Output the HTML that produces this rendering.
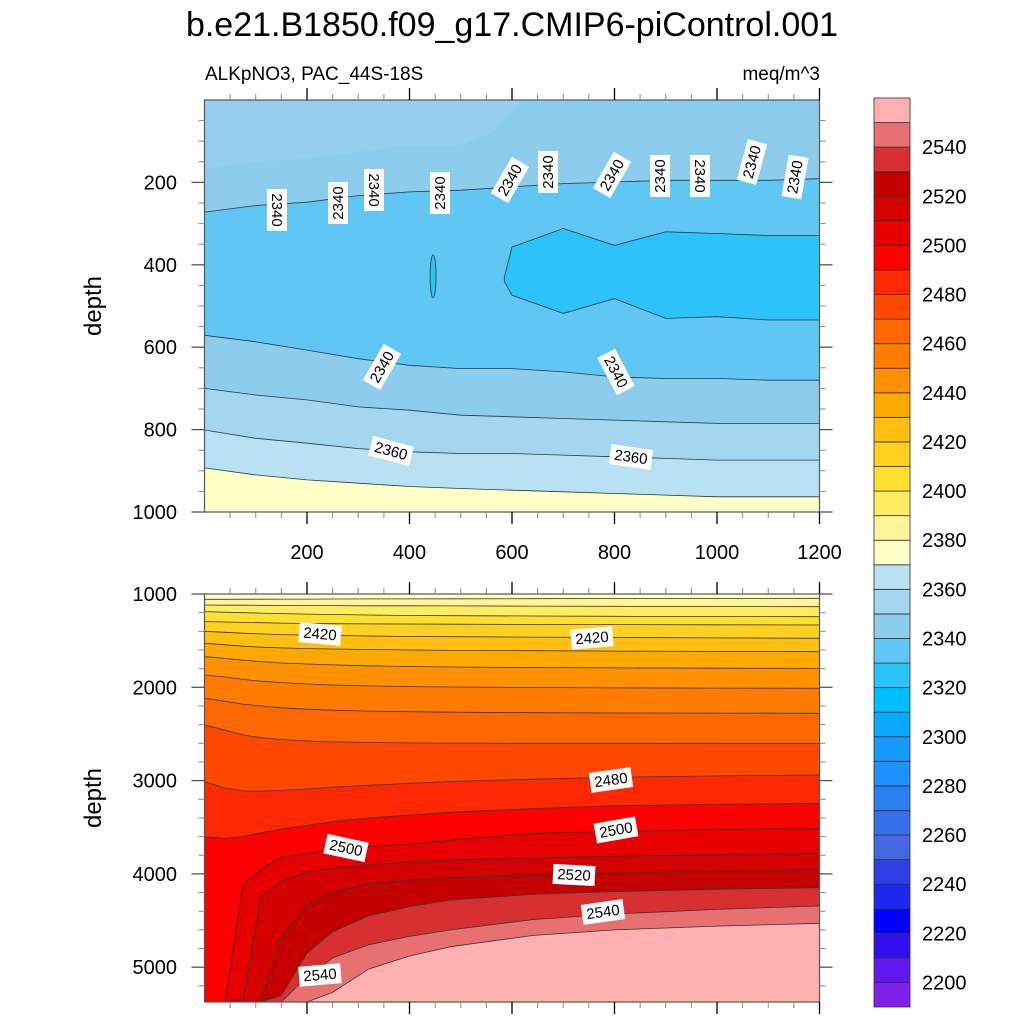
<!DOCTYPE html>
<html><head><meta charset="utf-8">
<style>
html,body{margin:0;padding:0;background:#fff;width:1024px;height:1024px;overflow:hidden;}
svg{display:block;font-family:"Liberation Sans",Arial,sans-serif;}
</style></head>
<body>
<svg id="chart" width="1024" height="1024" viewBox="0 0 1024 1024" xmlns="http://www.w3.org/2000/svg">
<defs>
<clipPath id="clipU"><rect x="204.5" y="100" width="615" height="412"/></clipPath>
<clipPath id="clipL"><rect x="204.5" y="594" width="615" height="408"/></clipPath>
</defs>
<text x="512" y="36" text-anchor="middle" font-size="34">b.e21.B1850.f09_g17.CMIP6-piControl.001</text>
<text x="205" y="80" font-size="19">ALKpNO3, PAC_44S-18S</text>
<text x="820" y="80" font-size="19" text-anchor="end">meq/m^3</text>
<g id="upper"></g>
<g id="lower"></g>
<g id="cbar"></g>
</svg>
<script>
// ---- colour scale ----
const levelStart = 2190;
const levelStep = 10;
const bandColors = ["#7f1fea","#6018ee","#3010f0","#0000ff","#1a28f0","#2c40e6","#4468e0","#3570e8","#2a80ee","#1e90ff","#1599ff","#08aaff","#00bfff","#2cc4f8","#60c6f4","#8ccced","#a4d6f0","#b8e2f4","#ffffc8","#fff598","#ffec60","#ffe030","#ffd020","#ffbe10","#ffa800","#ff9000","#ff7c00","#ff6800","#ff4800","#ff2800","#ff0000","#e80000","#d40000","#c40000","#d83030","#e87070","#ffb0b0"];
const cbarTicks = [2200,2220,2240,2260,2280,2300,2320,2340,2360,2380,2400,2420,2440,2460,2480,2500,2520,2540];

// ---- upper panel data (time in years, depth in m) ----
const upperTimes = [0,100,200,300,400,500,600,700,800,900,1000,1100,1200];
const upper2340Top = [272,256,248,232,223,219,211,203,199,195,195,195,191];
const upper2340Bot = [571,587,607,628,644,652,652,660,672,676,676,680,680];
const upper2350 = [700,716,728,745,753,765,769,773,777,781,785,785,785];
const upper2360 = [801,821,833,846,854,858,858,862,866,870,874,874,874];
const upper2370 = [893,910,922,930,938,943,947,951,955,959,963,963,963];
const surfTimes = [0,100,200,300,400,500,560,620];
const surfPocketBottom = [167,150,142,126,110,110,80,0];
const coreTimes = [585,600,700,800,900,1000,1100,1200];
const coreTop = [430,357,312,353,320,324,329,329];
const coreBottom = [440,474,518,482,530,526,534,534];
const blobTime = [446];
const blobTop = [376];
const blobBottom = [480];

// ---- lower panel data ----
const lowerTimes = [0,40,75,110,150,200,250,320,400,480,640,800,1000,1200];
const lowerLevels = [2380,2390,2400,2410,2420,2430,2440,2450,2460,2470,2480,2490,2500,2510,2520,2530,2540,2550];
const d2380 = [1057,1057,1056,1056,1055,1055,1054,1053,1052,1051,1050,1048,1047,1046];
const d2390 = [1118,1120,1120,1121,1122,1123,1124,1126,1127,1128,1130,1132,1134,1136];
const d2400 = [1189,1195,1200,1205,1210,1215,1220,1225,1230,1233,1236,1239,1241,1243];
const d2410 = [1296,1300,1304,1308,1312,1316,1318,1320,1322,1324,1326,1328,1330,1332];
const d2420 = [1400,1410,1420,1428,1435,1440,1445,1450,1455,1458,1462,1466,1470,1475];
const d2430 = [1530,1545,1560,1570,1578,1585,1590,1595,1600,1604,1608,1612,1615,1618];
const d2440 = [1672,1690,1710,1725,1740,1750,1760,1770,1777,1782,1788,1792,1795,1797];
const d2450 = [1868,1890,1915,1935,1950,1965,1975,1985,1992,1997,2002,2006,2009,2011];
const d2460 = [2118,2150,2180,2200,2220,2235,2245,2255,2262,2267,2272,2275,2277,2279];
const d2470 = [2404,2460,2510,2540,2560,2575,2585,2592,2596,2598,2600,2600,2601,2601];
const d2480 = [3011,3080,3110,3115,3105,3090,3070,3050,3030,3010,2985,2965,2950,2940];
const d2490 = [3601,3620,3600,3560,3520,3480,3440,3400,3370,3340,3300,3270,3255,3244];
const d2500 = [9000,5400,4120,3950,3820,3780,3740,3710,3680,3640,3565,3545,3525,3512];
const d2510 = [9000,9000,5350,4250,4080,3980,3940,3900,3875,3850,3830,3810,3795,3780];
const d2520 = [9000,9000,9000,5450,4680,4330,4200,4110,4065,4040,4005,3990,3970,3958];
const d2530 = [9000,9000,9000,9000,5300,4850,4620,4450,4350,4280,4220,4190,4165,4148];
const d2540 = [9000,9000,9000,9000,6000,5100,4900,4760,4670,4600,4490,4430,4380,4344];
const d2550 = [9000,9000,9000,9000,9000,5400,5270,5020,4880,4780,4660,4600,4560,4530];
const lowerDepths = [d2380,d2390,d2400,d2410,d2420,d2430,d2440,d2450,d2460,d2470,d2480,d2490,d2500,d2510,d2520,d2530,d2540,d2550];

// ---- axes functions ----
const X0 = 204.5, X1 = 819.5;
const xScale = t => X0 + (t/1200)*(X1-X0);
const yU = d => Math.min(512, 100 + d*0.412);
const yL = d => Math.min(1002, 594 + (d-1000)*0.0933);
const colorOf = v => bandColors[Math.round((v-levelStart)/levelStep)];
const NS = "http://www.w3.org/2000/svg";
function mk(tag, attrs, parent){
  const e = document.createElementNS(NS, tag);
  for (const k in attrs) e.setAttribute(k, attrs[k]);
  parent.appendChild(e); return e;
}
function linePts(times, depths, ys){ return times.map((t,i)=>xScale(t).toFixed(1)+","+ys(depths[i]).toFixed(1)); }

// ===== upper panel =====
const U = document.getElementById('upper');
const gU = mk('g',{'clip-path':'url(#clipU)'},U);
let r = mk('rect',{x:X0,y:100,width:X1-X0,height:412,fill:colorOf(2340)},gU);


let pp = ["204.5,100"].concat(linePts(surfTimes,surfPocketBottom,yU));
let p = mk('polygon',{points:pp.join(' '),fill:"#96cfee"},gU);


function fillBelow(g,times,depths,ys,fill,name,bottom){
  const pts = linePts(times,depths,ys);
  const poly = [X0+","+bottom, X0+","+ys(depths[0])].concat(pts).concat([X1+","+ys(depths[depths.length-1]), X1+","+bottom]);
  const e = mk('polygon',{points:poly.join(' '),fill:fill},g);
  
  
  const l = mk('polyline',{points:pts.join(' '),fill:'none',stroke:'#2a3a40','stroke-width':0.8},g);
  
  
}
fillBelow(gU,upperTimes,upper2340Top,yU,colorOf(2330),'band-2330',512);
{
  const top = linePts(coreTimes,coreTop,yU);
  const bot = linePts(coreTimes,coreBottom,yU).reverse();
  const e = mk('polygon',{points:top.concat([X1+","+yU(coreTop[coreTop.length-1]),X1+","+yU(coreBottom[coreBottom.length-1])]).concat(bot).join(' '),fill:colorOf(2320),stroke:'#2a3a40','stroke-width':0.8},gU);
  
  
  blobTime.forEach((t,i)=>{
    const b = mk('ellipse',{cx:xScale(t),cy:(yU(blobTop[i])+yU(blobBottom[i]))/2,rx:3,ry:(yU(blobBottom[i])-yU(blobTop[i]))/2,fill:colorOf(2320),stroke:'#2a3a40','stroke-width':0.8},gU);
    
    
  });
}
fillBelow(gU,upperTimes,upper2340Bot,yU,colorOf(2340),'band-2340-deep',512);
fillBelow(gU,upperTimes,upper2350,yU,colorOf(2350),'band-2350',512);
fillBelow(gU,upperTimes,upper2360,yU,colorOf(2360),'band-2360',512);
fillBelow(gU,upperTimes,upper2370,yU,colorOf(2370),'band-2370',512);

// ===== lower panel =====
const L = document.getElementById('lower');
const gL = mk('g',{'clip-path':'url(#clipL)'},L);
r = mk('rect',{x:X0,y:594,width:X1-X0,height:408,fill:colorOf(2370)},gL);


lowerLevels.forEach((lv,i)=>{ fillBelow(gL,lowerTimes,lowerDepths[i],yL,colorOf(lv),'band-'+lv,1002); });

// ===== axes =====
function axes(parent, yTop, yBot, yTicksMajor, yTicksMinor, ys, showXLabels, yLabels){
  const ax = mk('g',{},parent);
  
  
  mk('rect',{x:X0,y:yTop,width:X1-X0,height:yBot-yTop,fill:'none',stroke:'#555','stroke-width':1.2},ax);
  const bl = Math.min(12, 1022-yBot);
  for(let t=0;t<=1200;t+=50){
    const x=xScale(t), major=(t%200===0), len=major?12:6;
    if(t===0) continue;
    mk('line',{x1:x,y1:yBot,x2:x,y2:yBot+Math.min(len,bl),stroke:major?'#000':'#888','stroke-width':major?1.3:1},ax);
    mk('line',{x1:x,y1:yTop,x2:x,y2:yTop-len,stroke:major?'#000':'#888','stroke-width':major?1.3:1},ax);
    if(major && showXLabels){
      const tx = mk('text',{x:x,y:yBot+47,'text-anchor':'middle','font-size':20},ax);
      tx.textContent=t;
      
      
    }
  }
  yTicksMinor.forEach(d=>{
    const y=ys(d);
    mk('line',{x1:X0,y1:y,x2:X0-6,y2:y,stroke:'#888','stroke-width':1},ax);
    mk('line',{x1:X1,y1:y,x2:X1+6,y2:y,stroke:'#888','stroke-width':1},ax);
  });
  yTicksMajor.forEach((d,i)=>{
    const y=ys(d);
    mk('line',{x1:X0,y1:y,x2:X0-13,y2:y,stroke:'#555','stroke-width':1.3},ax);
    mk('line',{x1:X1,y1:y,x2:X1+13,y2:y,stroke:'#555','stroke-width':1.3},ax);
    const tx = mk('text',{x:177,y:y+7,'text-anchor':'end','font-size':20},ax);
    tx.textContent=yLabels[i];
    
    
  });
  const yt = mk('text',{x:0,y:0,'text-anchor':'middle','font-size':24,transform:'translate(101,'+((yTop+yBot)/2)+') rotate(-90)'},ax);
  yt.textContent='depth';
  
  
}
const uMaj=[200,400,600,800,1000], uMin=[];
for(let d=50;d<1000;d+=50) if(d%200) uMin.push(d);
axes(U,100,512,uMaj,uMin,yU,true,uMaj);
const lMaj=[1000,2000,3000,4000,5000], lMin=[];
for(let d=1200;d<5375;d+=200) if(d%1000) lMin.push(d);
axes(L,594,1002,lMaj,lMin,yL,false,lMaj);

// ===== contour labels =====
function clabel(parent,x,y,rot,txt){
  const g = mk('g',{transform:'translate('+x+','+y+') rotate('+rot+')'},parent);
  
  
  mk('rect',{x:-21,y:-10,width:42,height:20,fill:'#fff'},g);
  const t = mk('text',{x:0,y:5,'text-anchor':'middle','font-size':15},g);
  t.textContent=txt;
}
[[277,210,90],[338,203,-90],[374,190,90],[440,193,-90],[510,180,-60],[548,172,-90],[612,175,-60],[660,176,-90],[700,176,90],[752,162,-75],[795,177,-80]].forEach(a=>clabel(U,a[0],a[1],a[2],'2340'));
clabel(U,382,367,-60,'2340');
clabel(U,616,372,62,'2340');
clabel(U,391,451,15,'2360');
clabel(U,631,457,8,'2360');
clabel(L,320,634,5,'2420');
clabel(L,592,638,-5,'2420');
clabel(L,611,780,-8,'2480');
clabel(L,346,848,12,'2500');
clabel(L,616,830,-10,'2500');
clabel(L,574,875,3,'2520');
clabel(L,603,912,-8,'2540');
clabel(L,320,975,-5,'2540');

// ===== colorbar =====
const C = document.getElementById('cbar');
const cbTop=98, cbBot=1007, nB=bandColors.length, bh=(cbBot-cbTop)/nB;
bandColors.forEach((c,i)=>{
  const y = cbBot-(i+1)*bh;
  const b = mk('rect',{x:874,y:y,width:36,height:bh,fill:c,stroke:'#333','stroke-width':0.8},C);
  
  
});
cbarTicks.forEach(v=>{
  const y = cbBot-((v-levelStart)/levelStep)*bh;
  const t = mk('text',{x:922,y:y+7,'font-size':20},C);
  t.textContent=v;
  
  
});
</script>
</body></html>
